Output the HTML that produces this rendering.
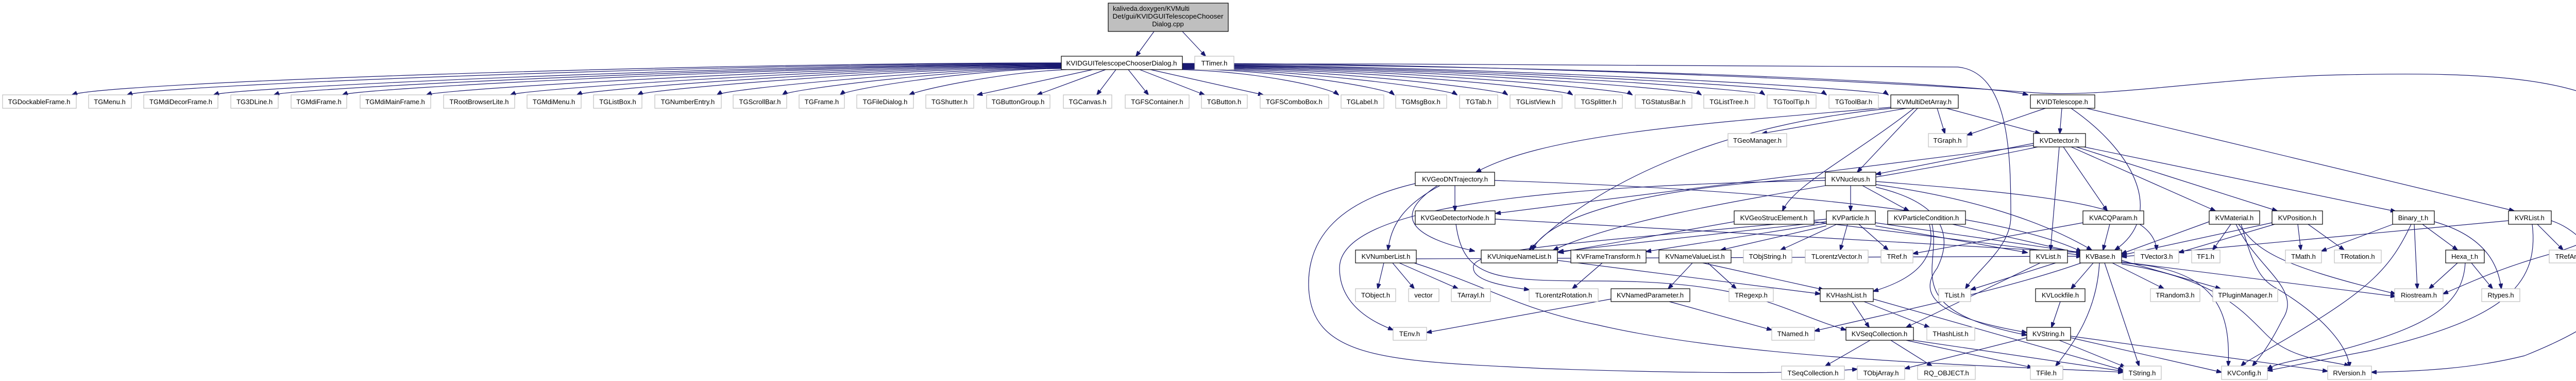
<!DOCTYPE html>
<html><head><meta charset="utf-8"><style>
html,body{margin:0;padding:0;background:#fff}
svg{display:block}
.e rect{fill:#fff;stroke:#bfbfbf;stroke-width:1.2}
.d rect{fill:#fff;stroke:#000;stroke-width:1.2}
text{font-family:"Liberation Sans",sans-serif;font-size:13px;fill:#000;text-anchor:middle}
path{fill:none;stroke:#191970;stroke-width:1.2}
</style></head><body>
<svg width="5134" height="739" viewBox="0 0 5134 739" xmlns="http://www.w3.org/2000/svg">
<defs><marker id="a" markerWidth="11" markerHeight="8" refX="10" refY="4" orient="auto" markerUnits="userSpaceOnUse"><path d="M0,0 L11,4 L0,8 Z" style="fill:#191970;stroke:#191970;stroke-width:1"/></marker></defs>
<g marker-end="url(#a)">
<!-- root -->
<path d="M2240 61 L2205 109"/>
<path d="M2295 61 L2340 109"/>
<!-- left group -->
<path d="M2060 122 C1340 122 200 160 140 184"/>
<path d="M2060 123 C1400 123 300 165 247 184"/>
<path d="M2060 124 C1500 124 460 168 415 184"/>
<path d="M2060 125 C1550 125 570 170 532 184"/>
<path d="M2060 126 C1600 126 700 170 665 184"/>
<path d="M2060 127 C1650 127 860 172 828 184"/>
<path d="M2060 128 C1700 128 1020 172 991 184"/>
<path d="M2060 129 C1750 129 1145 172 1120 184"/>
<path d="M2060 130 C1800 130 1260 172 1238 184"/>
<path d="M2060 131 C1850 131 1410 172 1392 184"/>
<path d="M2060 132 C1880 132 1535 172 1519 184"/>
<path d="M2060 133 C1900 133 1645 172 1631 184"/>
<path d="M2070 135 C1950 140 1790 172 1765 184"/>
<path d="M2121 135 L1897 184"/>
<path d="M2146 135 L2013 184"/>
<path d="M2166 135 L2129 184"/>
<path d="M2190 135 L2229 184"/>
<path d="M2212 135 L2338 184"/>
<path d="M2233 135 L2452 184"/>
<!-- right group -->
<path d="M2295 135 C2450 140 2580 170 2598 184"/>
<path d="M2295 134 C2470 134 2690 170 2706 184"/>
<path d="M2295 133 C2500 133 2810 172 2828 184"/>
<path d="M2295 132 C2550 132 2910 172 2926 184"/>
<path d="M2295 131 C2600 131 3035 172 3052 184"/>
<path d="M2295 130 C2650 130 3150 172 3168 184"/>
<path d="M2295 129 C2700 129 3285 172 3302 184"/>
<path d="M2295 128 C2750 128 3410 172 3425 184"/>
<path d="M2295 127 C2800 127 3530 172 3545 184"/>
<path d="M2295 126 C2850 126 3650 172 3665 184"/>
<path d="M2295 125 C3000 125 3850 160 3936 184"/>
<path d="M2295 124 C2900 124 3700 125 3800 130 C3900 140 3903 300 3903 420 C3903 480 3840 520 3815 560"/>
<path d="M2295 123 C2900 123 3700 160 3950 180 C4100 190 4300 150 4550 145 C4800 140 5128 140 5128 300 C5128 420 5080 450 4960 490 C4850 520 4790 550 4742 570"/>
<!-- KVMultiDetArray -->
<path d="M3700 210 L3420 259"/>
<path d="M3760 210 L3775 259"/>
<path d="M3778 210 L3960 259"/>
<path d="M3722 210 L3605 334"/>
<path d="M3715 210 C3600 300 3480 360 3460 409"/>
<path d="M3670 208 C3300 240 3000 260 2865 334"/>
<path d="M3672 210 C3350 240 3100 350 2968 485"/>
<!-- KVIDTelescope -->
<path d="M3970 210 L3818 262"/>
<path d="M4002 210 L3998 259"/>
<path d="M4020 210 C4150 300 4200 420 4105 485"/>
<path d="M4050 210 L4880 409"/>
<!-- KVDetector -->
<path d="M3947 278 L3641 338"/>
<path d="M3997 285 L3980 485"/>
<path d="M4005 285 L4090 409"/>
<path d="M4020 285 L4300 409"/>
<path d="M4030 285 L4420 409"/>
<path d="M4045 285 L4650 410"/>
<path d="M3947 282 L2903 414"/>
<path d="M3955 285 C3600 360 3200 400 3015 485"/>
<!-- KVNucleus -->
<path d="M3592 360 L3592 409"/>
<path d="M3615 360 L3705 409"/>
<path d="M3641 352 C4000 380 4180 400 4186 485"/>
<path d="M3641 358 C3800 380 3950 420 4060 485"/>
<path d="M3641 363 C3800 400 3780 480 3760 520 C3700 600 3850 630 3934 645"/>
<path d="M3543 350 C3000 360 2600 400 2600 520 C2600 600 2680 630 2704 640"/>
<path d="M3543 345 C3200 360 3000 420 2975 485"/>
<!-- KVParticle -->
<path d="M3565 435 L3456 485"/>
<path d="M3586 435 L3572 485"/>
<path d="M3608 435 L3665 485"/>
<path d="M3640 432 L4040 490"/>
<path d="M3640 438 L3935 490"/>
<path d="M3545 433 L3195 488"/>
<path d="M3545 438 L3340 485"/>
<path d="M3545 430 L3025 488"/>
<path d="M3545 425 C3100 470 2850 480 2860 520 C2860 545 2920 555 2968 562"/>
<!-- KVParticleCondition -->
<path d="M3745 435 C3760 500 3720 540 3636 565"/>
<path d="M3750 435 C3770 520 3680 600 3934 650"/>
<path d="M3790 435 L4040 492"/>
<!-- KVACQParam -->
<path d="M4095 435 L4082 485"/>
<path d="M4043 432 L3713 492"/>
<!-- KVGeoStrucElement -->
<path d="M3521 430 L4040 495"/>
<path d="M3366 430 L3025 490"/>
<!-- KVGeoDNTrajectory -->
<path d="M2824 360 L2824 409"/>
<path d="M2795 360 C2720 400 2700 440 2694 485"/>
<path d="M2790 360 C2700 420 2740 460 2862 487"/>
<path d="M2901 350 C3500 370 3900 420 4040 488"/>
<path d="M2747 356 C2600 390 2540 460 2540 550 C2540 700 2700 700 3000 715 C3300 725 3500 725 3605 716"/>
<!-- KVGeoDetectorNode -->
<path d="M2902 425 L4040 490"/>
<path d="M2826 435 C2840 540 2900 545 3100 545 C3400 545 3450 600 3583 640"/>
<!-- KVNumberList -->
<path d="M2686 510 L2674 560"/>
<path d="M2703 510 L2745 560"/>
<path d="M2716 510 L2830 560"/>
<path d="M2749 502 L4040 497"/>
<path d="M2745 510 C2900 560 2950 600 3100 630 C3400 700 3900 710 4121 722"/>
<path d="M3023 505 L3533 570"/>
<path d="M3110 510 L3052 560"/>
<!-- KVNameValueList -->
<path d="M3285 510 L3238 560"/>
<path d="M3305 510 L3540 562"/>
<path d="M3315 510 L3370 560"/>
<path d="M3127 580 L2769 645"/>
<path d="M3240 585 L3439 640"/>
<!-- KVHashList -->
<path d="M3595 585 L3628 635"/>
<path d="M3618 585 L3745 635"/>
<path d="M3636 580 L4121 718"/>
<!-- KVList -->
<path d="M3990 510 L3825 562"/>
<path d="M3960 510 L3700 635"/>
<!-- KVBase -->
<path d="M4063 510 L4020 560"/>
<path d="M4100 510 L4200 560"/>
<path d="M4118 505 L4310 560"/>
<path d="M4085 510 L4152 710"/>
<path d="M4075 510 C4070 600 4030 660 3990 710"/>
<path d="M4045 508 C3900 560 3700 600 3522 642"/>
<path d="M4118 510 C4300 520 4330 600 4325 710"/>
<path d="M4118 512 C4300 540 4350 600 4400 650 C4450 700 4530 700 4560 710"/>
<path d="M4118 508 L4650 575"/>
<path d="M3999 585 L3982 635"/>
<!-- KVString -->
<path d="M3934 655 L3697 715"/>
<path d="M3997 660 L4125 712"/>
<path d="M4019 655 L4312 722"/>
<path d="M4019 652 L4518 720"/>
<!-- KVSeqCollection -->
<path d="M3630 660 L3543 710"/>
<path d="M3670 660 L3750 710"/>
<path d="M3700 660 L3945 713"/>
<path d="M3714 660 L4121 720"/>
<!-- KVMaterial -->
<path d="M4330 435 L4295 485"/>
<path d="M4288 430 L4118 492"/>
<path d="M4345 435 C4380 480 4400 510 4650 570"/>
<path d="M4350 435 C4370 500 4380 540 4420 560 C4520 620 4560 680 4560 712"/>
<path d="M4340 435 C4380 520 4470 560 4430 620 C4400 680 4380 700 4372 710"/>
<!-- KVPosition -->
<path d="M4460 435 L4466 485"/>
<path d="M4480 435 L4550 485"/>
<path d="M4410 432 L4118 495"/>
<path d="M4415 435 L4229 490"/>
<!-- Binary_t -->
<path d="M4650 433 L4506 487"/>
<path d="M4686 435 L4692 560"/>
<path d="M4702 435 L4770 485"/>
<path d="M4725 430 C4830 460 4850 520 4855 560"/>
<path d="M4680 435 C4640 520 4600 560 4450 650 C4400 680 4360 700 4350 710"/>
<!-- Hexa_t -->
<path d="M4770 510 L4715 560"/>
<path d="M4797 510 L4838 560"/>
<path d="M4785 510 C4780 600 4700 640 4500 690 C4420 705 4410 710 4401 716"/>
<!-- KVRList -->
<path d="M4869 428 L4118 498"/>
<path d="M4925 435 L4975 485"/>
<path d="M4915 435 C4930 560 4850 620 4600 680 C4450 710 4420 715 4401 719"/>
<path d="M4952 428 C5020 450 5050 520 5080 550 C5090 600 5000 650 4900 690 C4800 715 4700 720 4603 722"/>
</g>

<!-- root node -->
<g><rect x="2151" y="6" width="233" height="55" style="fill:#bfbfbf;stroke:#000;stroke-width:1.2"/>
<text x="2160" y="21" style="text-anchor:start">kaliveda.doxygen/KVMulti</text>
<text x="2267" y="36" textLength="215" lengthAdjust="spacingAndGlyphs">Det/gui/KVIDGUITelescopeChooser</text>
<text x="2267" y="51">Dialog.cpp</text></g>

<g class="d"><rect x="2060" y="109" width="235" height="26"/><text x="2177" y="127" textLength="215" lengthAdjust="spacingAndGlyphs">KVIDGUITelescopeChooserDialog.h</text></g>
<g class="e"><rect x="2319" y="109" width="76" height="26"/><text x="2357" y="127">TTimer.h</text></g>

<!-- top row -->
<g class="e"><rect x="5" y="184" width="143" height="26"/><text x="76" y="202">TGDockableFrame.h</text></g>
<g class="e"><rect x="172" y="184" width="83" height="26"/><text x="213" y="202">TGMenu.h</text></g>
<g class="e"><rect x="279" y="184" width="144" height="26"/><text x="351" y="202">TGMdiDecorFrame.h</text></g>
<g class="e"><rect x="448" y="184" width="92" height="26"/><text x="494" y="202">TG3DLine.h</text></g>
<g class="e"><rect x="565" y="184" width="108" height="26"/><text x="619" y="202">TGMdiFrame.h</text></g>
<g class="e"><rect x="699" y="184" width="137" height="26"/><text x="767" y="202">TGMdiMainFrame.h</text></g>
<g class="e"><rect x="861" y="184" width="138" height="26"/><text x="930" y="202">TRootBrowserLite.h</text></g>
<g class="e"><rect x="1023" y="184" width="105" height="26"/><text x="1075" y="202">TGMdiMenu.h</text></g>
<g class="e"><rect x="1152" y="184" width="94" height="26"/><text x="1199" y="202">TGListBox.h</text></g>
<g class="e"><rect x="1271" y="184" width="129" height="26"/><text x="1335" y="202">TGNumberEntry.h</text></g>
<g class="e"><rect x="1423" y="184" width="104" height="26"/><text x="1475" y="202">TGScrollBar.h</text></g>
<g class="e"><rect x="1551" y="184" width="88" height="26"/><text x="1595" y="202">TGFrame.h</text></g>
<g class="e"><rect x="1663" y="184" width="110" height="26"/><text x="1718" y="202">TGFileDialog.h</text></g>
<g class="e"><rect x="1797" y="184" width="93" height="26"/><text x="1843" y="202">TGShutter.h</text></g>
<g class="e"><rect x="1915" y="184" width="123" height="26"/><text x="1976" y="202">TGButtonGroup.h</text></g>
<g class="e"><rect x="2064" y="184" width="94" height="26"/><text x="2111" y="202">TGCanvas.h</text></g>
<g class="e"><rect x="2184" y="184" width="124" height="26"/><text x="2246" y="202">TGFSContainer.h</text></g>
<g class="e"><rect x="2332" y="184" width="89" height="26"/><text x="2376" y="202">TGButton.h</text></g>
<g class="e"><rect x="2446" y="184" width="133" height="26"/><text x="2512" y="202">TGFSComboBox.h</text></g>
<g class="e"><rect x="2603" y="184" width="83" height="26"/><text x="2644" y="202">TGLabel.h</text></g>
<g class="e"><rect x="2709" y="184" width="99" height="26"/><text x="2758" y="202">TGMsgBox.h</text></g>
<g class="e"><rect x="2833" y="184" width="74" height="26"/><text x="2870" y="202">TGTab.h</text></g>
<g class="e"><rect x="2931" y="184" width="101" height="26"/><text x="2981" y="202">TGListView.h</text></g>
<g class="e"><rect x="3057" y="184" width="92" height="26"/><text x="3103" y="202">TGSplitter.h</text></g>
<g class="e"><rect x="3174" y="184" width="110" height="26"/><text x="3229" y="202">TGStatusBar.h</text></g>
<g class="e"><rect x="3307" y="184" width="99" height="26"/><text x="3356" y="202">TGListTree.h</text></g>
<g class="e"><rect x="3430" y="184" width="95" height="26"/><text x="3477" y="202">TGToolTip.h</text></g>
<g class="e"><rect x="3550" y="184" width="96" height="26"/><text x="3598" y="202">TGToolBar.h</text></g>
<g class="d"><rect x="3670" y="184" width="131" height="26"/><text x="3735" y="202">KVMultiDetArray.h</text></g>
<g class="d"><rect x="3941" y="184" width="125" height="26"/><text x="4003" y="202">KVIDTelescope.h</text></g>

<!-- row 259 -->
<g class="e"><rect x="3354" y="259" width="114" height="26"/><text x="3411" y="277">TGeoManager.h</text></g>
<g class="e"><rect x="3743" y="259" width="75" height="26"/><text x="3780" y="277">TGraph.h</text></g>
<g class="d"><rect x="3947" y="259" width="101" height="26"/><text x="3997" y="277">KVDetector.h</text></g>

<!-- row 334 -->
<g class="d"><rect x="2747" y="334" width="154" height="26"/><text x="2824" y="352">KVGeoDNTrajectory.h</text></g>
<g class="d"><rect x="3543" y="334" width="98" height="26"/><text x="3592" y="352">KVNucleus.h</text></g>

<!-- row 409 -->
<g class="d"><rect x="2747" y="409" width="155" height="26"/><text x="2824" y="427">KVGeoDetectorNode.h</text></g>
<g class="d"><rect x="3366" y="409" width="155" height="26"/><text x="3443" y="427">KVGeoStrucElement.h</text></g>
<g class="d"><rect x="3545" y="409" width="95" height="26"/><text x="3592" y="427">KVParticle.h</text></g>
<g class="d"><rect x="3664" y="409" width="151" height="26"/><text x="3739" y="427">KVParticleCondition.h</text></g>
<g class="d"><rect x="4043" y="409" width="118" height="26"/><text x="4102" y="427">KVACQParam.h</text></g>
<g class="d"><rect x="4288" y="409" width="98" height="26"/><text x="4337" y="427">KVMaterial.h</text></g>
<g class="d"><rect x="4410" y="409" width="98" height="26"/><text x="4459" y="427">KVPosition.h</text></g>
<g class="d"><rect x="4644" y="409" width="81" height="26"/><text x="4684" y="427">Binary_t.h</text></g>
<g class="d"><rect x="4869" y="409" width="83" height="26"/><text x="4910" y="427">KVRList.h</text></g>

<!-- row 485 -->
<g class="d"><rect x="2631" y="485" width="118" height="25"/><text x="2690" y="502">KVNumberList.h</text></g>
<g class="d"><rect x="2875" y="485" width="148" height="25"/><text x="2949" y="502">KVUniqueNameList.h</text></g>
<g class="d"><rect x="3049" y="485" width="146" height="25"/><text x="3122" y="502">KVFrameTransform.h</text></g>
<g class="d"><rect x="3220" y="485" width="140" height="25"/><text x="3290" y="502">KVNameValueList.h</text></g>
<g class="e"><rect x="3384" y="485" width="94" height="25"/><text x="3431" y="502">TObjString.h</text></g>
<g class="e"><rect x="3504" y="485" width="122" height="25"/><text x="3565" y="502">TLorentzVector.h</text></g>
<g class="e"><rect x="3651" y="485" width="62" height="25"/><text x="3682" y="502">TRef.h</text></g>
<g class="d"><rect x="3940" y="485" width="73" height="25"/><text x="3976" y="502">KVList.h</text></g>
<g class="d"><rect x="4037" y="485" width="81" height="25"/><text x="4077" y="502">KVBase.h</text></g>
<g class="e"><rect x="4143" y="485" width="86" height="25"/><text x="4186" y="502">TVector3.h</text></g>
<g class="e"><rect x="4254" y="485" width="55" height="25"/><text x="4281" y="502">TF1.h</text></g>
<g class="e"><rect x="4436" y="485" width="70" height="25"/><text x="4471" y="502">TMath.h</text></g>
<g class="e"><rect x="4531" y="485" width="91" height="25"/><text x="4576" y="502">TRotation.h</text></g>
<g class="d"><rect x="4747" y="485" width="75" height="25"/><text x="4784" y="502">Hexa_t.h</text></g>
<g class="e"><rect x="4948" y="485" width="92" height="25"/><text x="4994" y="502">TRefArray.h</text></g>

<!-- row 560 -->
<g class="e"><rect x="2631" y="560" width="78" height="25"/><text x="2670" y="577">TObject.h</text></g>
<g class="e"><rect x="2734" y="560" width="59" height="25"/><text x="2763" y="577">vector</text></g>
<g class="e"><rect x="2817" y="560" width="76" height="25"/><text x="2855" y="577">TArrayI.h</text></g>
<g class="e"><rect x="2968" y="560" width="134" height="25"/><text x="3035" y="577">TLorentzRotation.h</text></g>
<g class="d"><rect x="3127" y="560" width="153" height="25"/><text x="3203" y="577">KVNamedParameter.h</text></g>
<g class="e"><rect x="3356" y="560" width="86" height="25"/><text x="3399" y="577">TRegexp.h</text></g>
<g class="d"><rect x="3533" y="560" width="103" height="25"/><text x="3584" y="577">KVHashList.h</text></g>
<g class="e"><rect x="3763" y="560" width="62" height="25"/><text x="3794" y="577">TList.h</text></g>
<g class="d"><rect x="3951" y="560" width="96" height="25"/><text x="3999" y="577">KVLockfile.h</text></g>
<g class="e"><rect x="4174" y="560" width="96" height="25"/><text x="4222" y="577">TRandom3.h</text></g>
<g class="e"><rect x="4295" y="560" width="126" height="25"/><text x="4358" y="577">TPluginManager.h</text></g>
<g class="e"><rect x="4648" y="560" width="94" height="25"/><text x="4695" y="577">Riostream.h</text></g>
<g class="e"><rect x="4817" y="560" width="74" height="25"/><text x="4854" y="577">Rtypes.h</text></g>

<!-- row 635 -->
<g class="e"><rect x="2704" y="635" width="65" height="25"/><text x="2736" y="652">TEnv.h</text></g>
<g class="e"><rect x="3439" y="635" width="83" height="25"/><text x="3480" y="652">TNamed.h</text></g>
<g class="d"><rect x="3583" y="635" width="131" height="25"/><text x="3648" y="652">KVSeqCollection.h</text></g>
<g class="e"><rect x="3740" y="635" width="93" height="25"/><text x="3786" y="652">THashList.h</text></g>
<g class="d"><rect x="3934" y="635" width="85" height="25"/><text x="3976" y="652">KVString.h</text></g>

<!-- row 710 -->
<g class="e"><rect x="3458" y="710" width="122" height="26"/><text x="3519" y="728">TSeqCollection.h</text></g>
<g class="e"><rect x="3605" y="710" width="92" height="26"/><text x="3651" y="728">TObjArray.h</text></g>
<g class="e"><rect x="3722" y="710" width="112" height="26"/><text x="3778" y="728">RQ_OBJECT.h</text></g>
<g class="e"><rect x="3941" y="710" width="63" height="26"/><text x="3972" y="728">TFile.h</text></g>
<g class="e"><rect x="4121" y="710" width="74" height="26"/><text x="4158" y="728">TString.h</text></g>
<g class="e"><rect x="4312" y="710" width="89" height="26"/><text x="4356" y="728">KVConfig.h</text></g>
<g class="e"><rect x="4518" y="710" width="85" height="26"/><text x="4560" y="728">RVersion.h</text></g>
</svg>
</body></html>
